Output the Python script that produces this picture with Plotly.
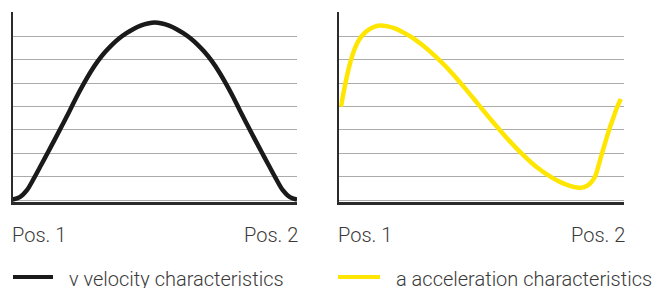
import plotly.graph_objects as go
from plotly.subplots import make_subplots

# ---- data ----
vel_pos = [0, 2.5, 5, 7.5, 10, 12.5, 15, 17.5, 20, 22.5, 25, 27.5, 30, 32.5, 35, 37.5, 40, 42.5, 45, 47.5, 50,
           52.5, 55, 57.5, 60, 62.5, 65, 67.5, 70, 72.5, 75, 77.5, 80, 82.5, 85, 87.5, 90, 92.5, 95, 97.5, 100]
vel_val = [0.03, 0.13, 0.43, 0.94, 1.5, 2.07, 2.64, 3.22, 3.81, 4.42, 4.98, 5.5, 5.95, 6.33, 6.65, 6.92, 7.14, 7.32, 7.46, 7.55, 7.59,
           7.55, 7.46, 7.32, 7.14, 6.92, 6.65, 6.33, 5.95, 5.5, 4.98, 4.42, 3.81, 3.22, 2.64, 2.07, 1.5, 0.94, 0.43, 0.13, 0.03]

acc_pos = [0.6, 1.5, 2.5, 4, 5.5, 7, 8.5, 10.5, 12.5, 14.5, 17, 19.5, 22, 24.5, 27, 29.5, 32, 34.8, 37.5, 40,
           42.5, 45, 47.5, 50, 52.5, 55, 57.5, 60, 62.5, 65, 67.5, 70, 72.5, 75, 77.5, 80, 82.5, 84, 86, 88,
           89.8, 91, 92.2, 93.5, 94.8, 96.2, 97.5, 98.9]
acc_val = [4.0, 4.6, 5.2, 5.95, 6.5, 6.87, 7.1, 7.3, 7.42, 7.47, 7.43, 7.34, 7.2, 7.03, 6.83, 6.6, 6.34, 6.03, 5.7, 5.37,
           5.02, 4.66, 4.29, 3.92, 3.55, 3.19, 2.84, 2.5, 2.18, 1.88, 1.6, 1.35, 1.13, 0.94, 0.78, 0.65, 0.56, 0.53, 0.56, 0.7,
           1.0, 1.45, 1.97, 2.5, 3.02, 3.5, 3.95, 4.32]

tick_labels = ["Pos. 1", "Pos. 2"]
tick_positions = [0, 100]
grid_values = [0, 1, 2, 3, 4, 5, 6, 7, 8]
series_names = ["v velocity characteristics", "a acceleration characteristics"]
series_colors = ["#1a1a1a", "#FFE600"]

W, H = 667, 288
OFF = 8  # page body margin offset
FONT = "Roboto"
TXT = "#3a3a3a"
FS = 20


def px_x(v):
    return (v - OFF) / W


def px_y(v):
    return 1 - (v - OFF) / H


fig = make_subplots(rows=1, cols=2)
fig.add_trace(go.Scatter(x=vel_pos, y=vel_val, mode="lines", line=dict(color=series_colors[0], width=4.5, shape="spline", smoothing=1),
                         name=series_names[0], showlegend=False, hoverinfo="skip"), row=1, col=1)
fig.add_trace(go.Scatter(x=acc_pos, y=acc_val, mode="lines", line=dict(color=series_colors[1], width=4.5, shape="spline", smoothing=1),
                         name=series_names[1], showlegend=False, hoverinfo="skip"), row=1, col=2)

panels = [(12.7, 297.0), (339.3, 624.0)]
y_top, y_bot = 12.3, 202.0
ydom = [px_y(y_bot), px_y(y_top)]
for i, (x0, x1) in enumerate(panels):
    xa = "xaxis" if i == 0 else "xaxis2"
    ya = "yaxis" if i == 0 else "yaxis2"
    fig.layout[xa].update(domain=[px_x(x0), px_x(x1)], range=[0, 100], showgrid=False, zeroline=False,
                          showline=True, linecolor="#2b2b2b", linewidth=2.5, showticklabels=False, ticks="")
    fig.layout[ya].update(domain=ydom, range=[-0.08, 8.03], tickvals=grid_values, showticklabels=False, ticks="",
                          showgrid=True, gridcolor="#ababab", gridwidth=1.2, zeroline=False,
                          showline=True, linecolor="#2b2b2b", linewidth=2)

annotations = []
for i in range(2):
    xr = "x" if i == 0 else "x2"
    for tv, tl, anc, sh in zip(tick_positions, tick_labels, ["left", "right"], [-3, 3]):
        annotations.append(dict(x=tv, y=px_y(235), xref=xr, yref="paper", text=tl, showarrow=False, xshift=sh,
                                xanchor=anc, yanchor="middle", font=dict(family=FONT, size=FS, color=TXT, weight=300)))

legend_items = [(13, 53, 67), (338, 380, 394)]
LEG_Y = 277
shapes = []
for (lx0, lx1, tx), name, col in zip(legend_items, series_names, series_colors):
    shapes.append(dict(type="line", xref="paper", yref="paper", x0=px_x(lx0), x1=px_x(lx1),
                       y0=px_y(LEG_Y), y1=px_y(LEG_Y), line=dict(color=col, width=4)))
    annotations.append(dict(x=px_x(tx), y=px_y(LEG_Y + 2), xref="paper", yref="paper", text=name, showarrow=False,
                            xanchor="left", yanchor="middle", font=dict(family=FONT, size=FS, color=TXT, weight=300)))

fig.update_layout(width=W, height=H, margin=dict(l=0, r=0, t=0, b=0), paper_bgcolor="white", plot_bgcolor="white",
                  annotations=annotations, shapes=shapes, showlegend=False)

fig.write_html("out.html")
